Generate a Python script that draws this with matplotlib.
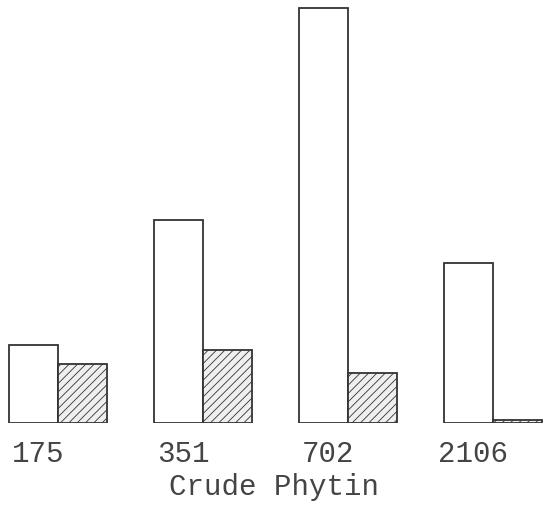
import matplotlib.pyplot as plt
import numpy as np

# Dosis de fitina cruda y alturas de las barras (unidades arbitrarias)
doses = ['175', '351', '702', '2106']
open_values = [78, 203, 415, 160]
hatched_values = [59, 73, 50, 3]

plt.rcParams['hatch.color'] = '#707070'
plt.rcParams['hatch.linewidth'] = 0.6
mono = ['Liberation Mono', 'DejaVu Sans Mono']

fig = plt.figure(figsize=(5.49, 5.14), dpi=100)
ax = fig.add_axes([0, 91 / 514, 1, 423 / 514])

width = 49
left = 9 + 145 * np.arange(len(doses))

ax.bar(left, open_values, width=width, align='edge', facecolor='white',
       edgecolor='#333333', linewidth=1.3)
ax.bar(left + width, hatched_values, width=width, align='edge', facecolor='#efefef',
       edgecolor='#333333', linewidth=1.3, hatch='////')

ax.set_xlim(0, 549)
ax.set_ylim(0, 423)
ax.set_xticks(left + 29)
ax.set_xticklabels(doses, family=mono, fontsize=21, color='#444444')
ax.tick_params(axis='x', length=0, pad=12)
ax.set_yticks([])
for s in ax.spines.values():
    s.set_visible(False)

fig.text(274 / 549, 1 - 487 / 514, 'Crude Phytin', family=mono, fontsize=21,
         color='#444444', ha='center', va='center')

fig.savefig('out.png', dpi=100)
